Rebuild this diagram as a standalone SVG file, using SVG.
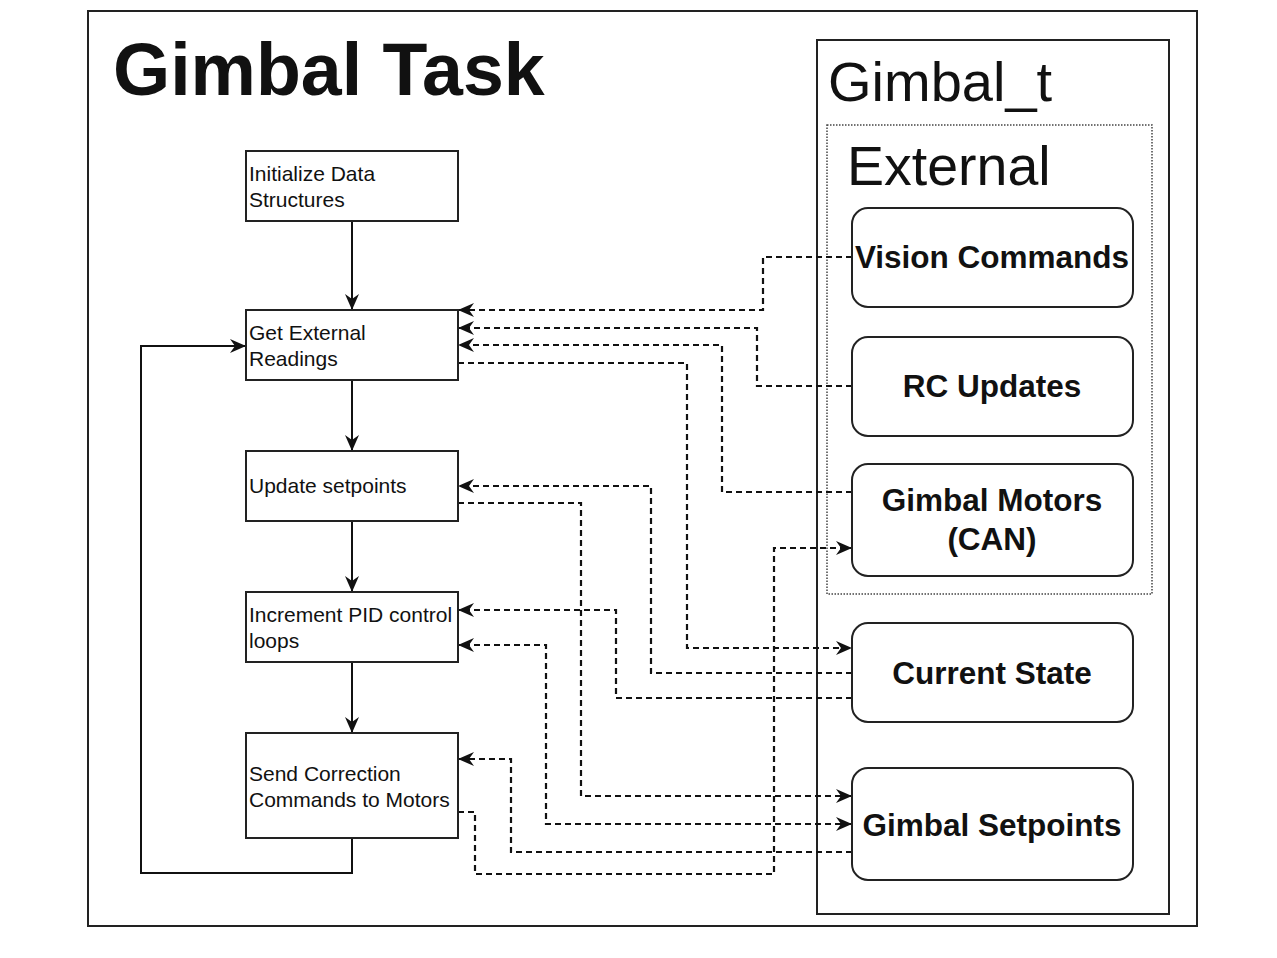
<svg xmlns="http://www.w3.org/2000/svg" width="1277" height="958" viewBox="0 0 1277 958">
<style>
.frame{fill:#fff;stroke:#222;stroke-width:2}
.box{fill:#fff;stroke:#222;stroke-width:2}
.rbox{fill:#fff;stroke:#222;stroke-width:2}
.ext{fill:none;stroke:#444;stroke-width:1.5;stroke-dasharray:1.5 1.5}
.t{font-family:"Liberation Sans",Arial,sans-serif;fill:#111}
.small{font-size:21px}
.bold{font-weight:bold;font-size:31.5px;text-anchor:middle}
.solid{fill:none;stroke:#111;stroke-width:2}
.dash{fill:none;stroke:#111;stroke-width:2.2;stroke-dasharray:6 4}
</style>
<defs>
<marker id="arr" viewBox="0 0 16 14" refX="15" refY="7" markerWidth="16" markerHeight="14" markerUnits="userSpaceOnUse" orient="auto-start-reverse">
<path d="M0,0 L16,7 L0,14 L5,7 Z" fill="#111"/>
</marker>
</defs>
<rect width="1277" height="958" fill="#fff"/>
<g id="frame">
<rect class="frame" x="88" y="11" width="1109" height="915"/>
<text class="t" x="113" y="95" font-size="73.5" font-weight="bold">Gimbal Task</text>
</g>
<g id="gimbal_t">
<rect class="frame" x="817" y="40" width="352" height="874"/>
<text class="t" x="828" y="101" font-size="56">Gimbal_t</text>
</g>
<g id="external">
<rect class="ext" x="827" y="125" width="325" height="469"/>
<text class="t" x="847" y="185" font-size="55.5">External</text>
</g>
<g id="connectors">
<path class="solid" d="M352,221 V309" marker-end="url(#arr)"/>
<path class="solid" d="M352,380 V450" marker-end="url(#arr)"/>
<path class="solid" d="M352,521 V591" marker-end="url(#arr)"/>
<path class="solid" d="M352,662 V732" marker-end="url(#arr)"/>
<path class="solid" d="M352,838 V873 H141 V346 H245" marker-end="url(#arr)"/>
<path class="dash" d="M852,257 H763 V310 H459" marker-end="url(#arr)"/>
<path class="dash" d="M852,386 H757 V328 H459" marker-end="url(#arr)"/>
<path class="dash" d="M852,492 H722 V345 H459" marker-end="url(#arr)"/>
<path class="dash" d="M458,363 H687 V648 H851" marker-end="url(#arr)"/>
<path class="dash" d="M852,673 H651 V486 H459" marker-end="url(#arr)"/>
<path class="dash" d="M458,503 H581 V796 H851" marker-end="url(#arr)"/>
<path class="dash" d="M852,698 H616 V610 H459" marker-end="url(#arr)"/>
<path class="dash" d="M851,824 H546 V645 H459" marker-start="url(#arr)" marker-end="url(#arr)"/>
<path class="dash" d="M852,852 H511 V759 H459" marker-end="url(#arr)"/>
<path class="dash" d="M458,812 H475 V874 H774 V548 H851" marker-end="url(#arr)"/>
</g>
<g id="init">
<rect class="box" x="246" y="151" width="212" height="70"/>
<text class="t small" x="249" y="181">Initialize Data</text>
<text class="t small" x="249" y="207">Structures</text>
</g>
<g id="get_external">
<rect class="box" x="246" y="310" width="212" height="70"/>
<text class="t small" x="249" y="340">Get External</text>
<text class="t small" x="249" y="366">Readings</text>
</g>
<g id="update_setpoints">
<rect class="box" x="246" y="451" width="212" height="70"/>
<text class="t small" x="249" y="493">Update setpoints</text>
</g>
<g id="increment_pid">
<rect class="box" x="246" y="592" width="212" height="70"/>
<text class="t small" x="249" y="622">Increment PID control</text>
<text class="t small" x="249" y="648">loops</text>
</g>
<g id="send_correction">
<rect class="box" x="246" y="733" width="212" height="105"/>
<text class="t small" x="249" y="781">Send Correction</text>
<text class="t small" x="249" y="807">Commands to Motors</text>
</g>
<g id="vision_commands">
<rect class="rbox" x="852" y="208" width="281" height="99" rx="16"/>
<text class="t bold" x="992" y="268">Vision Commands</text>
</g>
<g id="rc_updates">
<rect class="rbox" x="852" y="337" width="281" height="99" rx="16"/>
<text class="t bold" x="992" y="397">RC Updates</text>
</g>
<g id="gimbal_motors">
<rect class="rbox" x="852" y="464" width="281" height="112" rx="16"/>
<text class="t bold" x="992" y="511">Gimbal Motors</text>
<text class="t bold" x="992" y="550">(CAN)</text>
</g>
<g id="current_state">
<rect class="rbox" x="852" y="623" width="281" height="99" rx="16"/>
<text class="t bold" x="992" y="684">Current State</text>
</g>
<g id="gimbal_setpoints">
<rect class="rbox" x="852" y="768" width="281" height="112" rx="16"/>
<text class="t bold" x="992" y="836">Gimbal Setpoints</text>
</g>
</svg>
